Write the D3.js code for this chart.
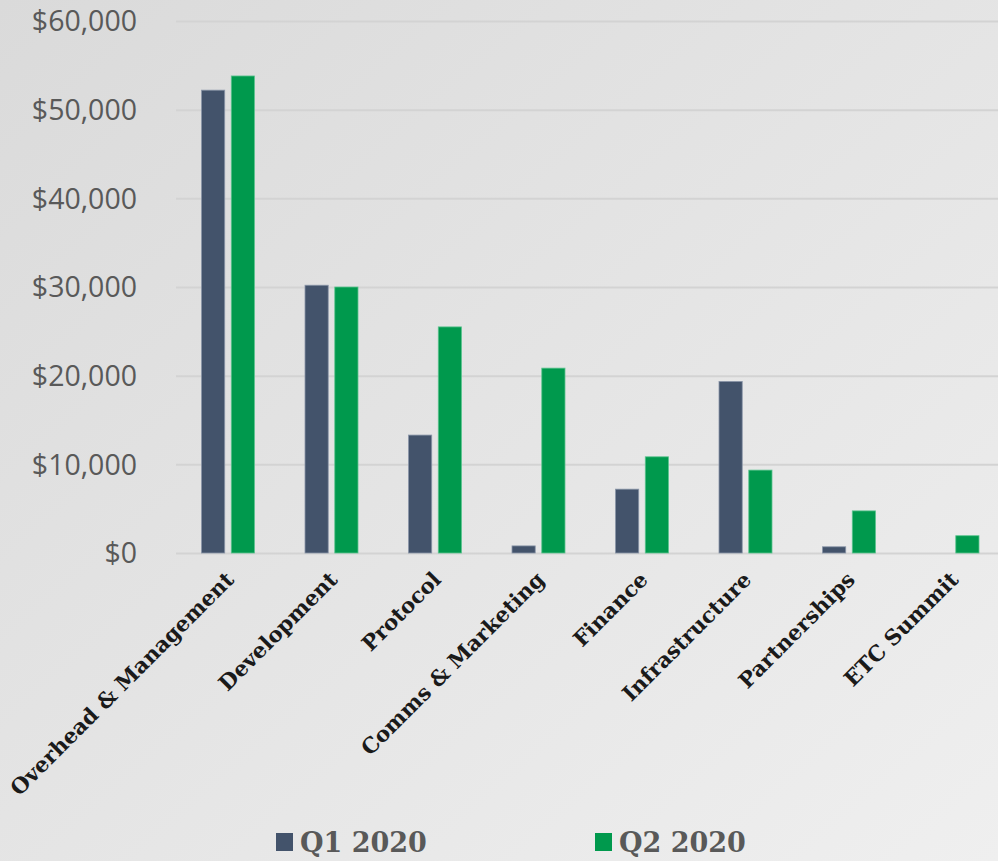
<!DOCTYPE html>
<meta charset="utf-8">
<style>
  body { margin: 0; }
  svg { display: block; }
  .ytick text { font-family: "Open Sans", sans-serif; font-size: 28.5px; fill: #595959; }
  .xlab { font-family: "DejaVu Serif", serif; font-weight: bold; font-size: 21.4px; fill: #1a1a1a; }
  .legend text { font-family: "DejaVu Serif", serif; font-weight: bold; font-size: 27px; fill: #595959; }
</style>
<body>
  <script src="https://d3js.org/d3.v7.min.js"></script>
  <div id="chart"></div>
  <script>
    // data
    var categories = ["Overhead & Management", "Development", "Protocol", "Comms & Marketing",
      "Finance", "Infrastructure", "Partnerships", "ETC Summit"];
    var q1 = [52200, 30200, 13300, 800, 7200, 19350, 700, 0];
    var q2 = [53800, 30000, 25500, 20850, 10850, 9350, 4750, 1950];
    var seriesNames = ["Q1 2020", "Q2 2020"];
    var yTicks = [0, 10000, 20000, 30000, 40000, 50000, 60000];

    var colors = ["#43536b", "#00994d"];
    var width = 998, height = 861;

    var svg = d3.select("#chart").append("svg")
      .attr("width", width)
      .attr("height", height);

    // background gradient
    var grad = svg.append("defs").append("linearGradient")
      .attr("id", "bg").attr("x1", "0").attr("y1", "0").attr("x2", "1").attr("y2", "1");
    grad.append("stop").attr("offset", "0%").attr("stop-color", "#dadada");
    grad.append("stop").attr("offset", "100%").attr("stop-color", "#efefef");
    svg.append("rect").attr("width", width).attr("height", height).attr("fill", "url(#bg)");

    var x = d3.scaleBand().domain(categories).range([176.5, 1004.5]).paddingInner(0).paddingOuter(0);
    var x1 = d3.scaleBand().domain(seriesNames).range([25, 78]).paddingInner(0.22);
    var y = d3.scaleLinear().domain([0, 60000]).range([553, 21]);

    // gridlines + y labels
    var yAxis = svg.append("g")
      .attr("transform", "translate(176,0)")
      .call(d3.axisLeft(y).tickValues(yTicks).tickSize(-830).tickPadding(39)
        .tickFormat(function (d) { return "$" + d3.format(",")(d); }));
    yAxis.select(".domain").remove();
    yAxis.selectAll(".tick").attr("class", "tick ytick");
    yAxis.selectAll(".tick line").attr("stroke", "#d3d3d3").attr("stroke-width", 2);
    yAxis.selectAll(".tick text").attr("dy", "0.35em");

    var rows = categories.map(function (c, i) { return { cat: c, vals: [q1[i], q2[i]] }; });

    var groups = svg.selectAll(".grp")
      .data(rows)
      .enter().append("g")
      .attr("transform", function (d) { return "translate(" + x(d.cat) + ",0)"; });

    groups.selectAll("rect")
      .data(function (d) { return d.vals.map(function (v, j) { return { v: v, s: seriesNames[j], j: j }; }); })
      .enter().append("rect")
      .filter(function (d) { return d.v > 0; })
      .attr("x", function (d) { return x1(d.s); })
      .attr("width", x1.bandwidth())
      .attr("y", function (d) { return y(d.v); })
      .attr("height", function (d) { return y(0) - y(d.v); })
      .attr("fill", function (d) { return colors[d.j]; })
      .attr("stroke", function (d) { return d.j == 0 ? "#8a96a8" : "#5cc48f"; })
      .attr("stroke-width", 0.8);

    // rotated category labels
    svg.selectAll(".xlab")
      .data(categories)
      .enter().append("text")
      .attr("class", "xlab")
      .attr("text-anchor", "end")
      .attr("transform", function (d) {
        return "translate(" + (x(d) + x.bandwidth() / 2 + 7) + ",581) rotate(-45)";
      })
      .text(function (d) { return d; });

    // legend
    var legend = svg.append("g").attr("class", "legend");
    var lx = [276, 595];
    seriesNames.forEach(function (s, i) {
      legend.append("rect").attr("x", lx[i]).attr("y", 833).attr("width", 17).attr("height", 18)
        .attr("fill", colors[i]);
      legend.append("text").attr("x", lx[i] + 24).attr("y", 852).text(s);
    });
  </script>
</body>
